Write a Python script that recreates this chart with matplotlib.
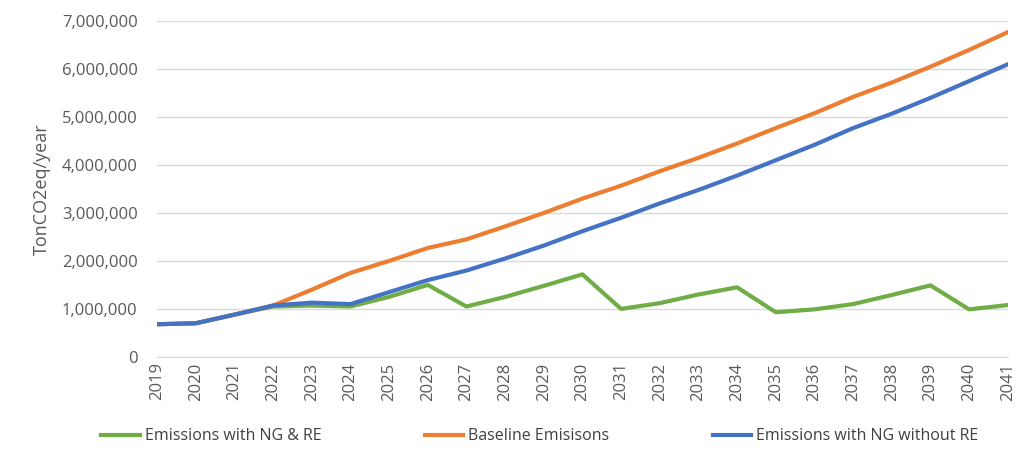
import numpy as np
import matplotlib
matplotlib.use("Agg")
from matplotlib import pyplot as plt
from matplotlib.ticker import FuncFormatter

plt.rcParams["font.family"] = ["Open Sans", "DejaVu Sans"]

years = list(range(2019, 2042))

ng_re = [680000, 700000, 880000, 1050000, 1070000, 1050000, 1250000, 1500000,
         1050000, 1250000, 1480000, 1720000, 1000000, 1120000, 1300000, 1450000,
         930000, 990000, 1100000, 1290000, 1490000, 990000, 1080000]
baseline = [680000, 700000, 880000, 1070000, 1400000, 1750000, 2000000, 2270000,
            2450000, 2720000, 3000000, 3300000, 3570000, 3870000, 4150000, 4450000,
            4770000, 5080000, 5420000, 5720000, 6050000, 6400000, 6770000]
ng_no_re = [680000, 700000, 880000, 1070000, 1130000, 1100000, 1350000, 1600000,
            1800000, 2050000, 2320000, 2620000, 2900000, 3200000, 3480000, 3780000,
            4100000, 4420000, 4770000, 5070000, 5400000, 5750000, 6100000]

fig = plt.figure(figsize=(10.2, 4.5), dpi=100)
ax = fig.add_axes([0.154, 0.207, 0.834, 0.746])

ax.plot(years, ng_re, color="#70AD47", linewidth=3, label="Emissions with NG & RE")
ax.plot(years, baseline, color="#ED7D31", linewidth=3, label="Baseline Emisisons")
ax.plot(years, ng_no_re, color="#4472C4", linewidth=3, label="Emissions with NG without RE")

ax.set_xlim(2019, 2041)
ax.set_ylim(0, 7000000)
ax.set_yticks(np.arange(0, 7000001, 1000000))
ax.yaxis.set_major_formatter(FuncFormatter(lambda v, p: f"{int(v):,}"))
ax.set_xticks(years)
ax.set_xticklabels([str(y) for y in years], rotation=90)
ax.grid(axis="y", color="#d9d9d9", linewidth=1)
ax.set_axisbelow(True)
for s in ["top", "right", "left"]:
    ax.spines[s].set_visible(False)
ax.spines["bottom"].set_color("#d9d9d9")
ax.tick_params(axis="both", length=0, colors="#595959", labelsize=12)
ax.tick_params(axis="y", pad=14)
ax.tick_params(axis="x", pad=4)
ax.set_ylabel("TonCO2eq/year", fontsize=13, color="#595959", labelpad=8)

ax.legend(loc="upper center", bbox_to_anchor=(0.45, -0.17), ncol=3, frameon=False,
          fontsize=11.5, handlelength=2.4, handletextpad=0.3, columnspacing=6.5,
          labelcolor="#404040")

fig.savefig("out.png", dpi=100)
